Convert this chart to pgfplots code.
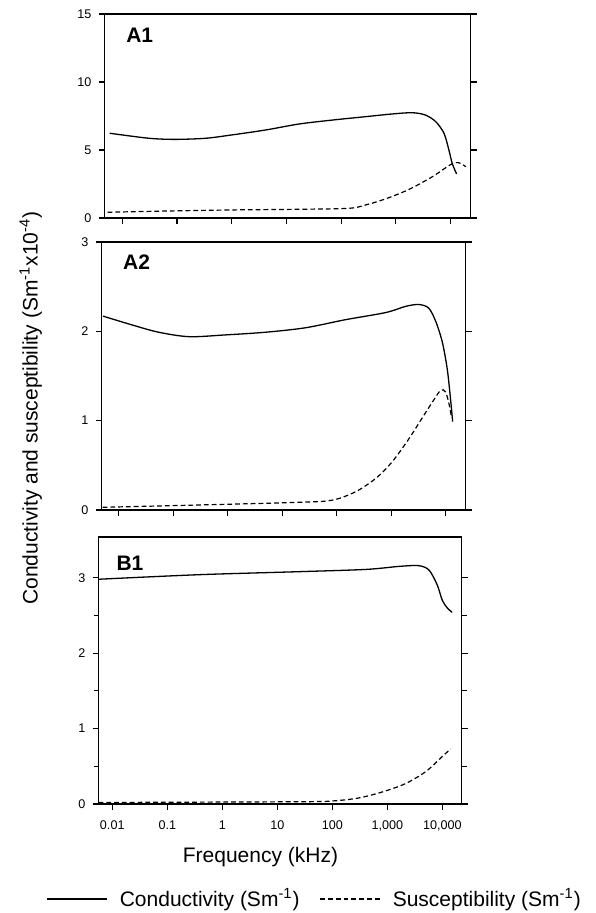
\documentclass[border=0pt]{standalone}
\usepackage{fontspec}
\setmainfont{Liberation Sans}
\usepackage{pgfplots}
\pgfplotsset{compat=1.18}
\begin{document}
\pgfplotsset{
  panel/.style={
    scale only axis,
    anchor=south west,
    axis line style={line width=0.8pt},
    tick style={line width=0.6pt,black},
    tick align=outside,
    major tick length=3pt,
    minor tick length=2.5pt,
    xtick pos=bottom,
    ytick pos=both,
    yticklabel pos=left,
    xtick={-2,-1,0,1,2,3,4},
    xticklabels={},
    ticklabel style={font=\fontsize{6.3}{7.5}\selectfont},
    /pgf/number format/assume math mode=true,
    clip=false,
  },
  cond/.style={black,line width=0.65pt,smooth,tension=0.5,no marks},
  susc/.style={black,line width=0.6pt,smooth,tension=0.5,no marks,dash pattern=on 2.4pt off 1.5pt},
}
\begin{tikzpicture}[x=1pt,y=1pt]
\useasboundingbox (0pt,0pt) rectangle (295pt,456.5pt);
% ---------- A1 ----------
\begin{axis}[panel,
  at={(49.5pt,347.5pt)}, width=183pt, height=102pt,
  xmin=-2.324, xmax=4.366, ymin=0, ymax=15,
  ytick={0,5,10,15}]
\addplot[cond] coordinates {
(-2.23,6.23) (-1.51,5.86) (-1.03,5.78) (-0.48,5.86) (-0.01,6.10) (0.62,6.47)
(1.23,6.91) (1.84,7.20) (2.45,7.45) (2.94,7.65) (3.30,7.74) (3.54,7.57)
(3.73,7.08) (3.88,6.23) (3.97,5.00) (4.03,4.02) (4.11,3.24)};
\addplot[susc] coordinates {
(-2.27,0.42) (-1.21,0.51) (-0.01,0.59) (1.23,0.64) (2.14,0.71) (2.45,0.96)
(2.81,1.40) (3.24,2.10) (3.67,3.04) (3.97,3.85) (4.09,4.07) (4.18,4.02) (4.28,3.77)};
\node[anchor=west,font=\fontsize{10.5}{12}\selectfont\bfseries] at (rel axis cs:0.04,0.897) {A1};
\end{axis}
% ---------- A2 ----------
\begin{axis}[panel,
  at={(48pt,201.5pt)}, width=182pt, height=134pt,
  xmin=-2.318, xmax=4.367, ymin=0, ymax=3,
  ytick={0,1,2,3}]
\addplot[cond] coordinates {
(-2.29,2.17) (-1.75,2.07) (-1.27,1.99) (-0.71,1.94) (-0.04,1.96) (0.70,1.99)
(1.43,2.04) (2.16,2.13) (2.90,2.21) (3.27,2.28) (3.51,2.30) (3.69,2.26)
(3.82,2.11) (3.94,1.88) (4.03,1.58) (4.09,1.25) (4.13,0.99)};
\addplot[susc] coordinates {
(-2.30,0.03) (-0.53,0.056) (1.31,0.086) (1.92,0.11) (2.35,0.205) (2.72,0.355)
(3.02,0.54) (3.33,0.80) (3.57,1.03) (3.76,1.21) (3.91,1.34) (4.00,1.32)
(4.07,1.17) (4.11,1.03)};
\node[anchor=west,font=\fontsize{10.5}{12}\selectfont\bfseries] at (rel axis cs:0.04,0.926) {A2};
\end{axis}
% ---------- B1 ----------
\begin{axis}[panel,
  at={(46.5pt,54.5pt)}, width=181.5pt, height=133.5pt,
  xmin=-2.249, xmax=4.35, ymin=0, ymax=3.54,
  ytick={0,1,2,3}, minor ytick={0.5,1.5,2.5},
  xticklabels={0.01,0.1,1,10,100,{1,000},{10,000}},
  xticklabel style={yshift=-2pt},
  xlabel={Frequency (kHz)},
  xlabel style={font=\fontsize{10.5}{12}\selectfont, at={(rel axis cs:0.446,-0.2)}, anchor=center},
  ylabel={Conductivity and susceptibility (Sm\textsuperscript{-1}x10\textsuperscript{-4})},
  ylabel style={font=\fontsize{10.5}{12}\selectfont, at={(rel axis cs:-0.187,1.483)}, anchor=center, rotate=0},
  legend columns=2,
  legend style={draw=none, fill=none, font=\fontsize{10.5}{12}\selectfont,
    at={(rel axis cs:0.598,-0.356)}, anchor=center,
    /tikz/every odd column/.append style={column sep=4pt},
    /tikz/every even column/.append style={column sep=8pt}},
  legend image code/.code={\draw[#1,sharp plot] (0pt,0pt) -- (30pt,0pt);},
  ]
\addplot[cond] coordinates {
(-2.24,2.98) (-0.43,3.04) (1.39,3.08) (2.61,3.11) (3.21,3.15) (3.57,3.16)
(3.76,3.10) (3.91,2.90) (4.00,2.70) (4.09,2.60) (4.18,2.54)};
\addlegendentry{Conductivity (Sm\textsuperscript{-1})}
\addplot[susc] coordinates {
(-2.25,0.02) (1.39,0.03) (2.00,0.04) (2.48,0.08) (2.91,0.16) (3.33,0.27)
(3.70,0.43) (4.00,0.63) (4.15,0.73)};
\addlegendentry{Susceptibility (Sm\textsuperscript{-1})}
\node[anchor=west,font=\fontsize{10.5}{12}\selectfont\bfseries] at (rel axis cs:0.03,0.90) {B1};
\end{axis}
\end{tikzpicture}
\end{document}
